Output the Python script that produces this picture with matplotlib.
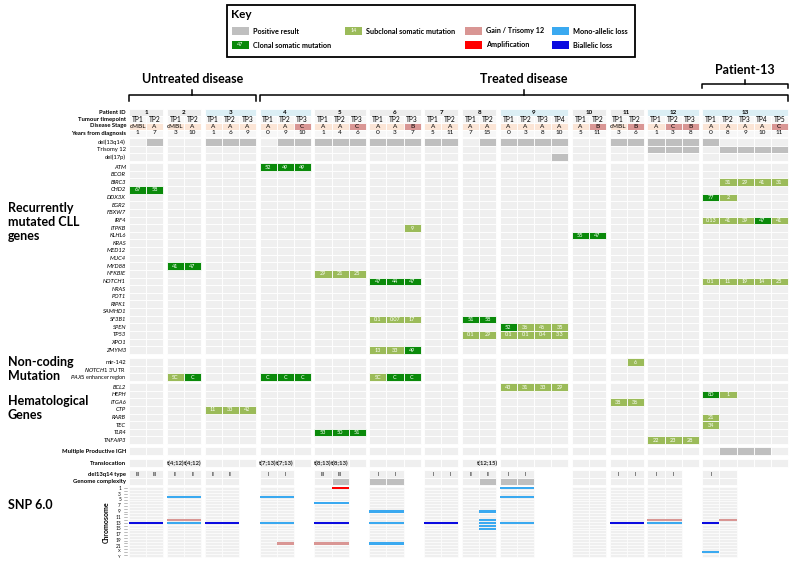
import numpy as np
import matplotlib.pyplot as plt
from matplotlib.patches import Rectangle

plt.rcParams['font.family'] = ['Lato', 'DejaVu Sans']

# ---- data -------------------------------------------------------------
PATIENTS = list(range(1, 14))
N_TP = [2, 2, 3, 3, 3, 3, 2, 2, 4, 2, 2, 3, 5]
STAGE = [['cMBL', 'A'], ['cMBL', 'A'], ['A', 'A', 'A'], ['A', 'A', 'C'], ['A', 'A', 'C'],
         ['A', 'A', 'B'], ['A', 'A'], ['A', 'A'], ['A', 'A', 'A', 'A'], ['A', 'B'],
         ['cMBL', 'B'], ['A', 'C', 'B'], ['A', 'A', 'A', 'A', 'C']]
YEARS = [[1, 7], [3, 10], [1, 6, 9], [0, 9, 10], [1, 4, 6], [0, 3, 7], [5, 11], [7, 15],
         [0, 3, 8, 10], [5, 11], [3, 6], [1, 3, 8], [0, 8, 9, 10, 11]]
BLUE_HEADER = [3, 4, 9, 12, 13]

HEADER_ROWS = ['Patient ID', 'Tumour timepoint', 'Disease Stage', 'Years from diagnosis']
CYTO_ROWS = ['del(13q14)', 'Trisomy 12', 'del(17p)']
CYTO_POS = {
    'del(13q14)': {1: [2], 3: [1, 2, 3], 4: [2, 3], 5: [1, 2, 3], 6: [1, 2, 3], 7: [1, 2],
                   8: [2], 9: [1, 2, 3, 4], 11: [1, 2], 12: [1, 2, 3], 13: [1]},
    'Trisomy 12': {12: [1, 2, 3], 13: [2, 3, 4, 5]},
    'del(17p)': {9: [4]},
}
GENES = ['ATM', 'BCOR', 'BIRC3', 'CHD2', 'DDX3X', 'EGR2', 'FBXW7', 'IRF4', 'ITPKB', 'KLHL6',
         'KRAS', 'MED12', 'MUC4', 'MYD88', 'NFKBIE', 'NOTCH1', 'NRAS', 'POT1', 'RIPK1',
         'SAMHD1', 'SF3B1', 'SPEN', 'TP53', 'XPO1', 'ZMYM3']
NONCODING = ['mir-142', "NOTCH1 3'UTR", 'PAX5 enhancer region']
HEME = ['BCL2', 'HEPH', 'ITGA6', 'CTP', 'RARB', 'TEC', 'TLR4', 'TNFAIP3']

# (row, patient, first timepoint, cell texts, C=clonal / S=subclonal)
MUTATIONS = [
    ('ATM', 4, 1, ['52', '49', '49'], 'CCC'),
    ('BIRC3', 13, 2, ['31', '29', '41', '31'], 'SSSS'),
    ('CHD2', 1, 1, ['67', '58'], 'CC'),
    ('DDX3X', 13, 1, ['77', '2'], 'CS'),
    ('IRF4', 13, 1, ['0.13', '41', '39', '47', '41'], 'SSSCS'),
    ('ITPKB', 6, 3, ['9'], 'S'),
    ('KLHL6', 10, 1, ['55', '47'], 'CC'),
    ('MYD88', 2, 1, ['41', '47'], 'CC'),
    ('NFKBIE', 5, 1, ['29', '21', '25'], 'SSS'),
    ('NOTCH1', 6, 1, ['47', '44', '47'], 'CCC'),
    ('NOTCH1', 13, 1, ['0.1', '11', '19', '14', '25'], 'SSSSS'),
    ('SF3B1', 6, 1, ['0.1', '0.07', '17'], 'SSS'),
    ('SF3B1', 8, 1, ['51', '58'], 'CC'),
    ('SPEN', 9, 1, ['52', '36', '46', '35'], 'CSSS'),
    ('TP53', 8, 1, ['0.1', '29'], 'SS'),
    ('TP53', 9, 1, ['0.1', '0.1', '0.4', '3.3'], 'SSSS'),
    ('ZMYM3', 6, 1, ['13', '33', '49'], 'SSC'),
    ('mir-142', 11, 2, ['6'], 'S'),
    ('PAX5 enhancer region', 2, 1, ['SC', 'C'], 'SC'),
    ('PAX5 enhancer region', 4, 1, ['C', 'C', 'C'], 'CCC'),
    ('PAX5 enhancer region', 6, 1, ['SC', 'C', 'C'], 'SCC'),
    ('BCL2', 9, 1, ['43', '31', '33', '29'], 'SSSS'),
    ('HEPH', 13, 1, ['80', '1'], 'CS'),
    ('ITGA6', 11, 1, ['38', '36'], 'SS'),
    ('CTP', 3, 1, ['11', '33', '42'], 'SSS'),
    ('RARB', 13, 1, ['21'], 'S'),
    ('TEC', 13, 1, ['34'], 'S'),
    ('TLR4', 5, 1, ['53', '50', '51'], 'CCC'),
    ('TNFAIP3', 12, 1, ['22', '23', '28'], 'SSS'),
]
IGH_POS = {13: [2, 3, 4]}
TRANSLOC = {2: ['t(4;12)', 't(4;12)'], 4: ['t(7;13)', 't(7;13)'], 5: ['t(8;13)', 't(8;13)'],
            8: ['', 't(12;15)']}
DEL13_TYPE = {1: ['III', 'III'], 2: ['II', 'II'], 3: ['II', 'II'], 4: ['I', 'I'], 5: ['III', 'III'],
              6: ['I', 'I'], 7: ['I', 'I'], 8: ['II', 'II'], 9: ['I', 'I'], 10: ['', ''],
              11: ['I', 'I'], 12: ['I', 'I'], 13: ['I', '']}
COMPLEX_POS = {5: [2], 6: [1, 2], 8: [2], 9: [1, 2]}

CHROMS = [str(i) for i in range(1, 23)] + ['X', 'Y']
CHROM_TICKS = ['1', '3', '5', '7', '9', '11', '13', '15', '17', '19', '21', 'X', 'Y']
# (patient, timepoint, chromosome, kind)
SNP_EVENTS = [
    (1, 1, '13', 'bi'), (1, 2, '13', 'bi'),
    (2, 1, '4', 'mono'), (2, 2, '4', 'mono'), (2, 1, '12', 'gain'), (2, 2, '12', 'gain'),
    (2, 1, '13', 'mono'), (2, 2, '13', 'mono'),
    (3, 1, '13', 'bi'), (3, 2, '13', 'bi'),
    (4, 1, '4', 'mono'), (4, 2, '4', 'mono'), (4, 1, '13', 'mono'), (4, 2, '13', 'mono'),
    (4, 2, '20', 'gain'),
    (5, 2, '1', 'amp'), (5, 1, '6', 'mono'), (5, 2, '6', 'mono'), (5, 1, '13', 'bi'),
    (5, 2, '13', 'bi'), (5, 1, '20', 'gain'), (5, 2, '20', 'gain'),
    (6, 1, '9', 'mono'), (6, 2, '9', 'mono'), (6, 1, '13', 'mono'), (6, 2, '13', 'mono'),
    (6, 1, '20', 'mono'), (6, 2, '20', 'mono'),
    (7, 1, '13', 'bi'), (7, 2, '13', 'bi'),
    (8, 2, '9', 'mono'), (8, 2, '12', 'mono'), (8, 2, '13', 'mono'), (8, 2, '14', 'mono'),
    (8, 2, '15', 'mono'),
    (9, 1, '1', 'mono'), (9, 2, '1', 'mono'), (9, 1, '4', 'mono'), (9, 2, '4', 'mono'),
    (9, 1, '13', 'mono'), (9, 2, '13', 'mono'),
    (11, 1, '13', 'bi'), (11, 2, '13', 'bi'),
    (12, 1, '12', 'gain'), (12, 2, '12', 'gain'), (12, 1, '13', 'mono'), (12, 2, '13', 'mono'),
    (13, 1, '13', 'bi'), (13, 1, 'X', 'mono'), (13, 2, '12', 'gain'),
]

# ---- style -------------------------------------------------------------
C_CELL = '#efefef'
C_POS = '#bfbfbf'
C_CLONAL = '#0a8a0a'
C_SUB = '#9bbb59'
COLORS = {'gain': '#d99694', 'amp': '#ff0000', 'mono': '#3aa9f0', 'bi': '#0a0ae0'}

X0, CW, PG = 129.0, 17.1, 3.6
RH = 7.6


def col_left(p, t):
    i = p - 1
    return X0 + (sum(N_TP[:i]) + t - 1) * CW + i * PG


# row layout: (names, gap before block, row height)
BLOCKS = [(HEADER_ROWS, 0, 7.0), (CYTO_ROWS, 1.7, RH), (GENES, 2.2, 7.625),
          (NONCODING, 4.4, RH), (HEME, 2.2, RH), (['Multiple Productive IGH'], 3.2, RH),
          (['Translocation'], 4.4, RH), (['del13q14 type', 'Genome complexity'], 3.4, RH)]
ROWS = {}
y = 108.5
for names, gap, h in BLOCKS:
    y += gap
    for n in names:
        ROWS[n] = (y, h)
        y += h
SNP_TOP = y + 1.5
CH_H = 2.9

fig = plt.figure(figsize=(8, 5.64), dpi=100)
ax = fig.add_axes([0, 0, 1, 1])
ax.set_xlim(0, 800)
ax.set_ylim(564, 0)
ax.axis('off')


def cell(p, t, row, color):
    y0, h = ROWS[row]
    ax.add_patch(Rectangle((col_left(p, t), y0), CW, h, facecolor=color,
                           edgecolor='white', linewidth=0.6))


def ctext(p, t, row, s, **kw):
    y0, h = ROWS[row]
    kw.setdefault('fontsize', 4.2)
    ax.text(col_left(p, t) + CW / 2, y0 + h / 2, s, ha='center', va='center', **kw)


# header block
for p, n in zip(PATIENTS, N_TP):
    pcol = '#dbeef4' if p in BLUE_HEADER else '#ececec'
    x1 = col_left(p, 1)
    y0, h = ROWS['Patient ID']
    ax.add_patch(Rectangle((x1, y0), n * CW, h, facecolor=pcol, edgecolor='white', linewidth=0.6))
    ax.text(x1 + n * CW / 2, y0 + h / 2, str(p), ha='center', va='center', fontsize=4.5,
            fontweight='bold')
    for t in range(1, n + 1):
        cell(p, t, 'Tumour timepoint', '#f7f7f7')
        ctext(p, t, 'Tumour timepoint', f'TP{t}', fontsize=4.8)
        st = STAGE[p - 1][t - 1]
        cell(p, t, 'Disease Stage', '#d99694' if st in ('B', 'C') else '#fbe5d6')
        ctext(p, t, 'Disease Stage', st, fontsize=4.6)
        cell(p, t, 'Years from diagnosis', '#f7f7f7')
        ctext(p, t, 'Years from diagnosis', str(YEARS[p - 1][t - 1]), fontsize=4.6)
        for row in CYTO_ROWS + GENES + NONCODING + HEME + ['Multiple Productive IGH', 'Translocation']:
            pos = CYTO_POS.get(row, IGH_POS if row == 'Multiple Productive IGH' else {})
            cell(p, t, row, C_POS if t in pos.get(p, []) else C_CELL)

# mutations
for row, p, t0, labels, kinds in MUTATIONS:
    for k, (s, c) in enumerate(zip(labels, kinds)):
        cell(p, t0 + k, row, C_CLONAL if c == 'C' else C_SUB)
        ctext(p, t0 + k, row, s, color='white', fontsize=4.0)

# translocations
for p, labels in TRANSLOC.items():
    for k, s in enumerate(labels):
        ctext(p, k + 1, 'Translocation', s, fontsize=4.3, fontweight='bold', color='#222222')

# del13q14 type / genome complexity / SNP
for p in PATIENTS:
    for t in (1, 2):
        cell(p, t, 'del13q14 type', C_CELL)
        ctext(p, t, 'del13q14 type', DEL13_TYPE[p][t - 1], fontsize=3.6)
        cell(p, t, 'Genome complexity', C_POS if t in COMPLEX_POS.get(p, []) else C_CELL)
        for k in range(len(CHROMS)):
            ax.add_patch(Rectangle((col_left(p, t), SNP_TOP + k * CH_H), CW, CH_H,
                                   facecolor=C_CELL, edgecolor='white', linewidth=0.4))

for p, t, ch, kind in SNP_EVENTS:
    k = CHROMS.index(ch)
    ax.add_patch(Rectangle((col_left(p, t), SNP_TOP + k * CH_H + 0.35), CW, CH_H - 0.7,
                           facecolor=COLORS[kind], edgecolor='none'))

# row labels
for row, (y0, h) in ROWS.items():
    bold = row in HEADER_ROWS or row in ('Multiple Productive IGH', 'Translocation',
                                          'del13q14 type', 'Genome complexity')
    style = 'italic' if row in GENES or row in HEME else 'normal'
    if row == "NOTCH1 3'UTR":
        ax.text(126, y0 + h / 2, r"$\it{NOTCH1}$ 3'UTR", ha='right', va='center', fontsize=4.0)
        continue
    if row == 'PAX5 enhancer region':
        ax.text(126, y0 + h / 2, r"$\it{PAX5}$ enhancer region", ha='right', va='center',
                fontsize=4.0)
        continue
    ax.text(126, y0 + h / 2, row, ha='right', va='center', fontsize=4.2,
            fontweight='bold' if bold else 'normal', fontstyle=style)

# chromosome axis
for k, ch in enumerate(CHROMS):
    yc = SNP_TOP + (k + 0.5) * CH_H
    ax.plot([124, 127], [yc, yc], color='#888888', lw=0.4)
    if ch in CHROM_TICKS:
        if ch == 'X':
            ax.text(121, yc + 0.4, ch, ha='right', va='bottom', fontsize=3.0)
        elif ch == 'Y':
            ax.text(121, yc - 0.4, ch, ha='right', va='top', fontsize=3.0)
        else:
            ax.text(121, yc, ch, ha='right', va='center', fontsize=3.4)
ax.text(106, SNP_TOP + len(CHROMS) * CH_H / 2, 'Chromosome', rotation=90, ha='center',
        va='center', fontsize=5, fontweight='bold')

# section titles
ax.text(8, 222, 'Recurrently\nmutated CLL\ngenes', fontsize=9, fontweight='bold', va='center',
        linespacing=1.15)
ax.text(8, 369, 'Non-coding\nMutation', fontsize=9, fontweight='bold', va='center',
        linespacing=1.15)
ax.text(8, 408, 'Hematological\nGenes', fontsize=9, fontweight='bold', va='center',
        linespacing=1.15)
ax.text(8, 505, 'SNP 6.0', fontsize=9, fontweight='bold', va='center')


def brace(x1, x2, yb, drop, rise):
    xm = (x1 + x2) / 2
    ax.plot([x1, x1, x2, x2], [yb + drop, yb, yb, yb + drop], color='black', lw=1.1)
    ax.plot([xm, xm], [yb, yb - rise], color='black', lw=1.1)


brace(col_left(1, 1), col_left(3, 3) + CW, 95, 6, 5)
brace(col_left(4, 1), col_left(13, 5) + CW, 95, 6, 5)
brace(col_left(13, 1), col_left(13, 5) + CW, 84, 4, 4)
ax.text((col_left(1, 1) + col_left(3, 3) + CW) / 2, 79, 'Untreated disease', ha='center',
        va='center', fontsize=9, fontweight='bold')
ax.text((col_left(4, 1) + col_left(13, 5) + CW) / 2, 79, 'Treated disease', ha='center',
        va='center', fontsize=9, fontweight='bold')
ax.text((col_left(13, 1) + col_left(13, 5) + CW) / 2, 70, 'Patient-13', ha='center',
        va='center', fontsize=9, fontweight='bold')

# key
ax.add_patch(Rectangle((227, 5), 408, 52, facecolor='white', edgecolor='black', lw=1.3))
ax.text(231, 14, 'Key', fontsize=8.5, fontweight='bold', va='center')
KEY = [(232, 31, C_POS, '', 'Positive result'), (232, 45, C_CLONAL, '47', 'Clonal somatic mutation'),
       (345, 31, C_SUB, '14', 'Subclonal somatic mutation'),
       (465, 31, COLORS['gain'], '', 'Gain / Trisomy 12'), (465, 45, COLORS['amp'], '', 'Amplification'),
       (552, 31, COLORS['mono'], '', 'Mono-allelic loss'), (552, 45, COLORS['bi'], '', 'Biallelic loss')]
for kx, ky, kc, ks, label in KEY:
    ax.add_patch(Rectangle((kx, ky - 4), 17, 8, facecolor=kc, edgecolor='none'))
    if ks:
        ax.text(kx + 8.5, ky, ks, color='white', fontsize=4, ha='center', va='center')
    ax.text(kx + 21, ky, label, fontsize=5.2, fontweight='bold', va='center')

fig.savefig('out.png', dpi=100)
